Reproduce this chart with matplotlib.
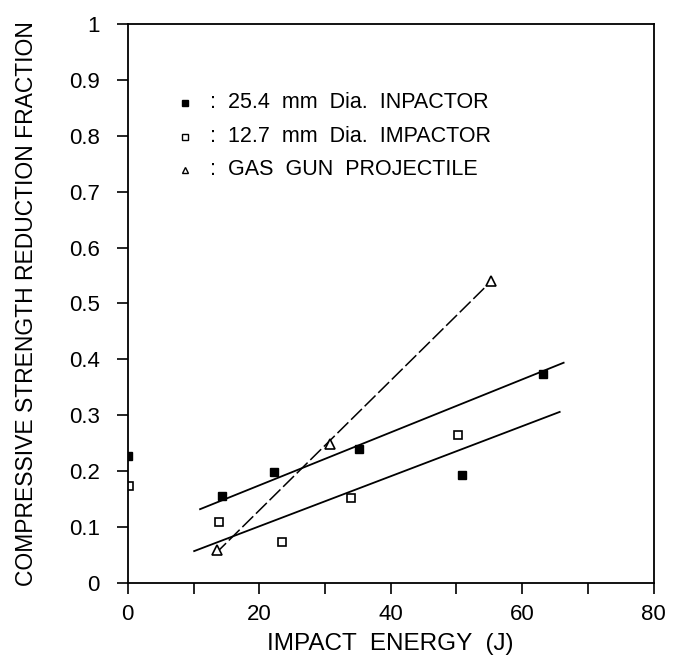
import matplotlib
matplotlib.use("Agg")
import matplotlib.pyplot as plt
from matplotlib.ticker import MultipleLocator

plt.rcParams['font.family'] = ['Liberation Sans', 'DejaVu Sans']

# 25.4 mm impactor (filled squares)
e254 = [0.0, 14.4, 22.3, 35.1, 50.8, 63.1]
r254 = [0.228, 0.156, 0.199, 0.240, 0.193, 0.374]
fit254_x = [11.0, 66.3]
fit254_y = [0.132, 0.394]

# 12.7 mm impactor (open squares)
e127 = [0.2, 13.9, 23.5, 34.0, 50.2]
r127 = [0.173, 0.109, 0.073, 0.152, 0.265]
fit127_x = [10.1, 65.7]
fit127_y = [0.057, 0.306]

# Gas gun projectile (open triangles)
egg = [13.5, 30.7, 55.3]
rgg = [0.059, 0.248, 0.540]
fitgg_x = [13.3, 55.3]
fitgg_y = [0.052, 0.540]

legend_labels = [":  25.4  mm  Dia.  INPACTOR", ":  12.7  mm  Dia.  IMPACTOR", ":  GAS  GUN  PROJECTILE"]

fig = plt.figure(figsize=(6.76, 6.67), dpi=100)
ax = fig.add_axes([0.189, 0.126, 0.778, 0.838])

ax.plot(fit254_x, fit254_y, color='black', lw=1.3)
ax.plot(fit127_x, fit127_y, color='black', lw=1.3)
ax.plot(fitgg_x, fitgg_y, color='black', lw=1.1, dashes=(10, 2.5))

ax.plot(e254, r254, 's', color='black', ms=6, mfc='black')
ax.plot(e127, r127, 's', color='black', ms=5.5, mfc='white', mew=1.2)
ax.plot(egg, rgg, '^', color='black', ms=7, mfc='white', mew=1.2)

ax.set_xlim(0, 80)
ax.set_ylim(0, 1)
ax.xaxis.set_major_locator(MultipleLocator(20))
ax.xaxis.set_minor_locator(MultipleLocator(10))
ax.set_yticks([0, 0.1, 0.2, 0.3, 0.4, 0.5, 0.6, 0.7, 0.8, 0.9, 1.0])
ax.set_yticklabels(['0', '0.1', '0.2', '0.3', '0.4', '0.5', '0.6', '0.7', '0.8', '0.9', '1'])
ax.tick_params(axis='both', which='major', direction='out', length=8, width=1.2, labelsize=16)
ax.tick_params(axis='y', which='major', pad=12)
ax.tick_params(axis='x', which='major', pad=7)
ax.tick_params(axis='x', which='minor', direction='out', length=8, width=1.2)
ax.tick_params(top=False, right=False)
for s in ax.spines.values():
    s.set_linewidth(1.3)

ax.set_xlabel('IMPACT  ENERGY  (J)', fontsize=17.5, labelpad=6)
ax.set_ylabel('COMPRESSIVE STRENGTH REDUCTION FRACTION', fontsize=16.5, labelpad=22)

# legend-like annotations
ly = [0.859, 0.798, 0.739]
mk = [dict(marker='s', mfc='black', ms=4.5), dict(marker='s', mfc='white', ms=4),
      dict(marker='^', mfc='white', ms=4.5)]
for y, lab, m in zip(ly, legend_labels, mk):
    ax.plot([8.7], [y], linestyle='none', color='black', mew=1.0, **m)
    ax.text(12.5, y, lab, fontsize=15.5, va='center', ha='left')

fig.savefig('out.png', dpi=100)
